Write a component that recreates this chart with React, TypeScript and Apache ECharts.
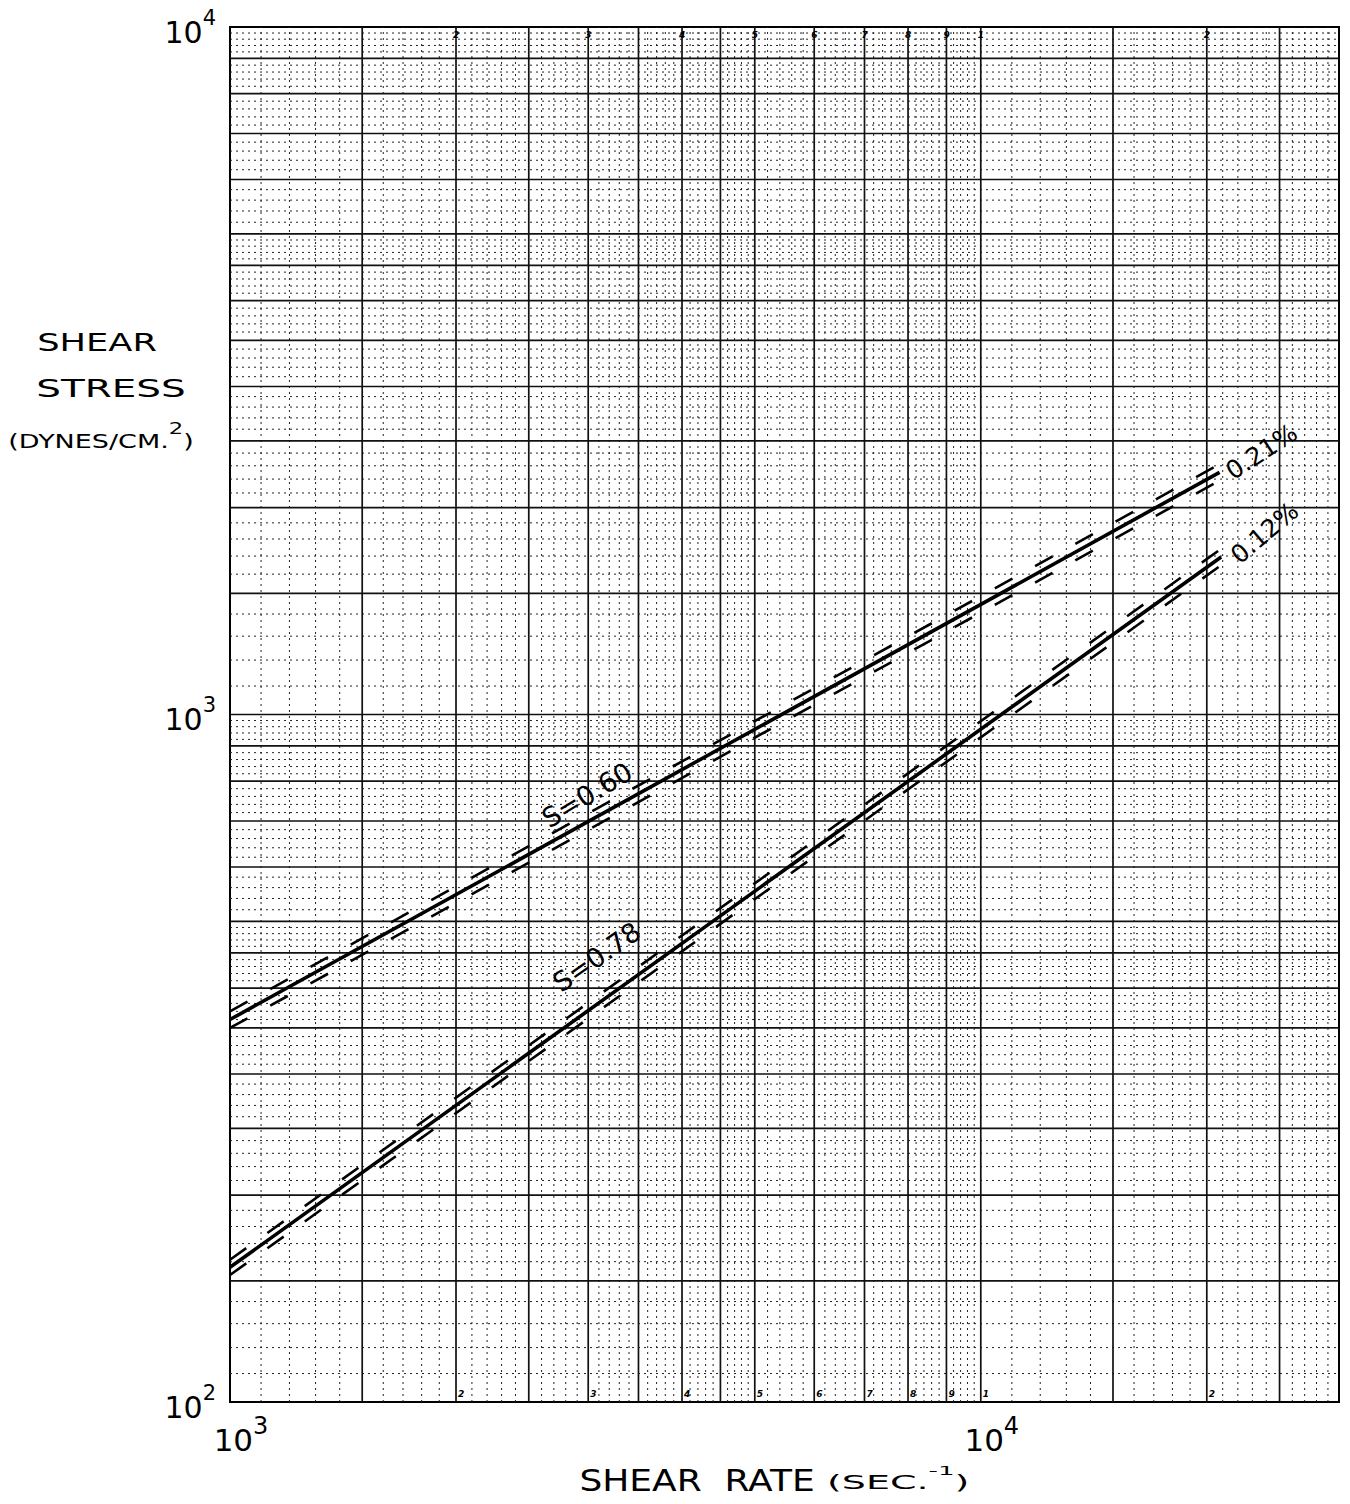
import { useEffect, useRef } from 'react';
import * as echarts from 'echarts';

// ---- axis ranges (log-log paper) ----
const X_MIN = 1000;
const X_MAX = 30000;
const Y_MIN = 100;
const Y_MAX = 10000;

// graph-paper decades and rulings (mantissas within a decade)
const xDecades = [1000, 10000];
const yDecades = [100, 1000];
const majorMantissas = [1, 1.5, 2, 2.5, 3, 3.5, 4, 4.5, 5, 6, 7, 8, 9];
const minorMantissas = [
  1.1, 1.2, 1.3, 1.4, 1.6, 1.7, 1.8, 1.9,
  2.1, 2.2, 2.3, 2.4, 2.6, 2.7, 2.8, 2.9,
  3.1, 3.2, 3.3, 3.4, 3.6, 3.7, 3.8, 3.9,
  4.1, 4.2, 4.3, 4.4, 4.6, 4.7, 4.8, 4.9,
  5.2, 5.4, 5.6, 5.8, 6.2, 6.4, 6.6, 6.8,
  7.2, 7.4, 7.6, 7.8, 8.2, 8.4, 8.6, 8.8,
  9.2, 9.4, 9.6, 9.8,
];

// small printed numbers of the graph paper
const paperNumberValues = [2000, 3000, 4000, 5000, 6000, 7000, 8000, 9000, 10000, 20000];
const paperNumberLabels = ['2', '3', '4', '5', '6', '7', '8', '9', '1', '2'];

// ---- data: 0.21 % solution (S = 0.60) ----
const rate021 = [1000, 20800];
const stress021 = [360, 2250];
const stress021Upper = [370, 2313];
const stress021Lower = [350, 2189];

// ---- data: 0.12 % solution (S = 0.78) ----
const rate012 = [1000, 20900];
const stress012 = [157, 1695];
const stress012Upper = [161, 1742];
const stress012Lower = [153, 1649];

// ---- annotations ----
const annotationText = ['S=0.60', 'S=0.78', '0.21%', '0.12%'];
const annotationRate = [2990, 3080, 23660, 23880];
const annotationStress = [764, 444, 2410, 1837];
const annotationAngle = [31, 35, 33, 40];
const annotationFont = [27, 27, 25, 25];

const FONT = 'DejaVu Sans';

function buildRulings(decades: number[], mantissas: number[], lo: number, hi: number) {
  const out: number[] = [];
  decades.forEach((d) =>
    mantissas.forEach((m) => {
      const v = d * m;
      if (v > lo * 1.0001 && v < hi * 0.9999) out.push(v);
    })
  );
  return out;
}

function rulingSeries(values: number[], dir: 'v' | 'h', style: any) {
  return {
    type: 'custom',
    silent: true,
    z: 1,
    clip: true,
    data: values.map((v) => (dir === 'v' ? [v, Y_MIN] : [X_MIN, v])),
    renderItem: (_params: any, api: any) => {
      const v = api.value(dir === 'v' ? 0 : 1);
      const p1 = dir === 'v' ? api.coord([v, Y_MIN]) : api.coord([X_MIN, v]);
      const p2 = dir === 'v' ? api.coord([v, Y_MAX]) : api.coord([X_MAX, v]);
      return {
        type: 'line',
        shape: { x1: p1[0], y1: p1[1], x2: p2[0], y2: p2[1] },
        style,
      };
    },
  };
}

function pairs(xs: number[], ys: number[]) {
  return xs.map((x, i) => [x, ys[i]]);
}

function isPow10(v: number) {
  const e = Math.log10(v);
  return Math.abs(e - Math.round(e)) < 1e-6;
}

export default function App() {
  const ref = useRef<HTMLDivElement>(null);

  useEffect(() => {
    if (!ref.current) return;
    const chart = echarts.init(ref.current, undefined, { renderer: 'svg' });

    const majorStyle = { stroke: '#111', lineWidth: 1.7 };
    const minorStyle = { stroke: '#222', lineWidth: 1, lineDash: [2, 4] };

    const xMajor = buildRulings(xDecades, majorMantissas, X_MIN, X_MAX);
    const yMajor = buildRulings(yDecades, majorMantissas, Y_MIN, Y_MAX);
    const xMinor = buildRulings(xDecades, minorMantissas, X_MIN, X_MAX);
    const yMinor = buildRulings(yDecades, minorMantissas, Y_MIN, Y_MAX);

    const solid = (data: number[][]) => ({
      type: 'line',
      data,
      symbol: 'none',
      silent: true,
      z: 5,
      lineStyle: { color: '#000', width: 3.6 },
    });
    const dashed = (data: number[][]) => ({
      type: 'line',
      data,
      symbol: 'none',
      silent: true,
      z: 5,
      lineStyle: { color: '#000', width: 2.6, type: [20, 26] },
    });

    const labelRich = (big: number, small: number, padLeft: number) => ({
      b: {
        fontSize: big,
        fontFamily: FONT,
        color: '#000',
        lineHeight: big + 10,
        verticalAlign: 'bottom',
        padding: [0, 0, 0, padLeft],
      },
      s: { fontSize: small, fontFamily: FONT, color: '#000', lineHeight: small + 2, verticalAlign: 'top' },
    });

    chart.setOption({
      animation: false,
      backgroundColor: '#fff',
      grid: {
        left: 230,
        top: 27,
        width: 1109,
        height: 1375,
        show: true,
        borderColor: '#000',
        borderWidth: 2,
        backgroundColor: 'transparent',
      },
      xAxis: {
        type: 'log',
        logBase: 10,
        min: X_MIN,
        max: X_MAX,
        axisLine: { show: true, lineStyle: { color: '#000', width: 2 } },
        axisTick: { show: false },
        splitLine: { show: false },
        axisLabel: {
          margin: 12,
          showMaxLabel: false,
          formatter: (v: number) => (isPow10(v) ? `{b|10}{s|${Math.round(Math.log10(v))}}` : ''),
          rich: labelRich(31, 24, 22),
        },
      },
      yAxis: {
        type: 'log',
        logBase: 10,
        min: Y_MIN,
        max: Y_MAX,
        axisLine: { show: true, lineStyle: { color: '#000', width: 2 } },
        axisTick: { show: false },
        splitLine: { show: false },
        axisLabel: {
          margin: 14,
          formatter: (v: number) => (isPow10(v) ? `{b|10}{s|${Math.round(Math.log10(v))}}` : ''),
          rich: labelRich(30, 21, 0),
        },
      },
      graphic: [
        {
          type: 'text',
          x: 97,
          y: 342,
          scaleX: 1.41,
          style: { text: 'SHEAR', fontSize: 25, fontFamily: FONT, fill: '#000', align: 'center', verticalAlign: 'middle' },
        },
        {
          type: 'text',
          x: 111,
          y: 389,
          scaleX: 1.62,
          style: { text: 'STRESS', fontSize: 24, fontFamily: FONT, fill: '#000', align: 'center', verticalAlign: 'middle' },
        },
        {
          type: 'text',
          x: 101,
          y: 436,
          scaleX: 1.42,
          style: {
            text: '{n|(DYNES/CM.}{s|2}{n|)}',
            align: 'center',
            verticalAlign: 'middle',
            rich: {
              n: { fontSize: 19, fontFamily: FONT, fill: '#000', lineHeight: 30, verticalAlign: 'bottom' },
              s: { fontSize: 16, fontFamily: FONT, fill: '#000', lineHeight: 16, verticalAlign: 'top' },
            },
          },
        },
        {
          type: 'text',
          x: 697,
          y: 1481,
          scaleX: 1.2,
          style: { text: 'SHEAR  RATE', fontSize: 30, fontFamily: FONT, fill: '#000', align: 'center', verticalAlign: 'middle' },
        },
        {
          type: 'text',
          x: 827,
          y: 1478,
          scaleX: 2.0,
          style: {
            text: '{n|(SEC.}{s|-1}{n|)}',
            align: 'left',
            verticalAlign: 'middle',
            rich: {
              n: { fontSize: 19, fontFamily: FONT, fill: '#000', lineHeight: 28, verticalAlign: 'bottom' },
              s: { fontSize: 13, fontFamily: FONT, fill: '#000', lineHeight: 14, verticalAlign: 'top' },
            },
          },
        },
      ],
      series: [
        rulingSeries(xMinor, 'v', minorStyle),
        rulingSeries(yMinor, 'h', minorStyle),
        rulingSeries(xMajor, 'v', majorStyle),
        rulingSeries(yMajor, 'h', majorStyle),
        {
          type: 'custom',
          silent: true,
          z: 2,
          data: paperNumberValues.map((v) => [v, Y_MIN]),
          renderItem: (params: any, api: any) => {
            const v = api.value(0);
            const lbl = paperNumberLabels[params.dataIndex];
            const pb = api.coord([v, Y_MIN]);
            const pt = api.coord([v, Y_MAX]);
            const st = { text: lbl, fontSize: 9, fontStyle: 'italic', fontWeight: 'bold', fontFamily: FONT, fill: '#000' };
            return {
              type: 'group',
              children: [
                { type: 'text', x: pb[0] + 2, y: pb[1] - 4, style: { ...st, align: 'left', verticalAlign: 'bottom' } },
                { type: 'text', x: pt[0] - 3, y: pt[1] + 3, style: { ...st, align: 'left', verticalAlign: 'top' } },
              ],
            };
          },
        },
        dashed(pairs(rate021, stress021Upper)),
        dashed(pairs(rate021, stress021Lower)),
        solid(pairs(rate021, stress021)),
        dashed(pairs(rate012, stress012Upper)),
        dashed(pairs(rate012, stress012Lower)),
        solid(pairs(rate012, stress012)),
        {
          type: 'custom',
          silent: true,
          z: 6,
          data: pairs(annotationRate, annotationStress),
          renderItem: (params: any, api: any) => {
            const i = params.dataIndex;
            const p = api.coord([api.value(0), api.value(1)]);
            return {
              type: 'text',
              x: p[0],
              y: p[1],
              rotation: (annotationAngle[i] * Math.PI) / 180,
              style: {
                text: annotationText[i],
                fontSize: annotationFont[i],
                fontFamily: FONT,
                fill: '#000',
                align: 'center',
                verticalAlign: 'middle',
              },
            };
          },
        },
      ],
    });

    return () => chart.dispose();
  }, []);

  return (
    <div
      ref={ref}
      style={{ position: 'absolute', left: 0, top: 0, width: 1350, height: 1504 }}
    />
  );
}
